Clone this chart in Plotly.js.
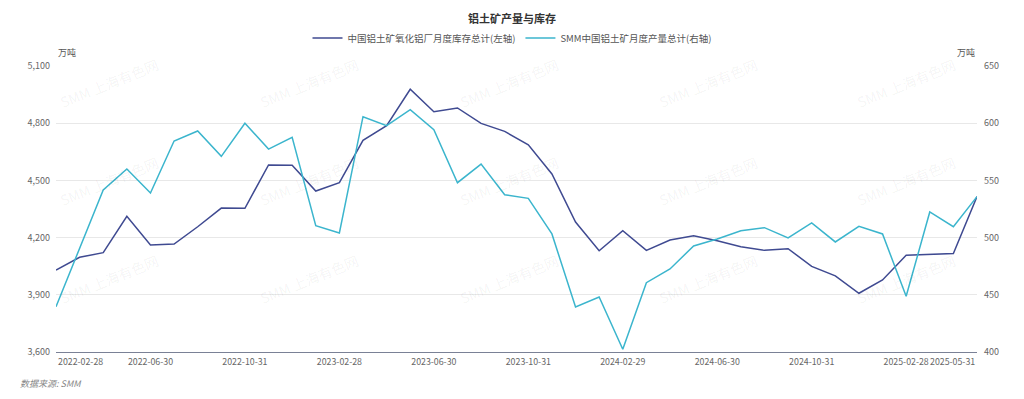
<!DOCTYPE html>
<html>
<head>
<meta charset="utf-8">
<script src="https://cdn.plot.ly/plotly-3.0.1.min.js"></script>
<style>
html,body{margin:0;padding:0;background:#fff;}
#chart{width:1024px;height:399px;}
</style>
</head>
<body>
<div id="chart"></div>
<script>
const dates = [
 "2022-02-28","2022-03-31","2022-04-30","2022-05-31","2022-06-30","2022-07-31","2022-08-31","2022-09-30",
 "2022-10-31","2022-11-30","2022-12-31","2023-01-31","2023-02-28","2023-03-31","2023-04-30","2023-05-31",
 "2023-06-30","2023-07-31","2023-08-31","2023-09-30","2023-10-31","2023-11-30","2023-12-31","2024-01-31",
 "2024-02-29","2024-03-31","2024-04-30","2024-05-31","2024-06-30","2024-07-31","2024-08-31","2024-09-30",
 "2024-10-31","2024-11-30","2024-12-31","2025-01-31","2025-02-28","2025-03-31","2025-04-30","2025-05-31"
];
const inventory = [4030,4097,4121,4312,4161,4166,4257,4355,4354,4581,4579,4444,4488,4710,4787,4978,
 4860,4880,4799,4757,4687,4534,4282,4131,4236,4133,4187,4210,4184,4152,4133,4142,4049,3999,3908,3978,
 4107,4110,4116,4415];
const production = [439.6,491,541.6,560,539,584.4,593.2,571,599.9,577.4,587.7,510.4,504,605.7,597.8,611.8,
 594.3,548,564.3,537.5,534.3,503.2,439.3,448.1,402.4,460.6,472.6,492.7,498.8,506,508.7,499.7,512.8,496.2,
 509.9,503.2,448.7,522.4,509.5,535.8];
const tickDates = ["2022-06-30","2022-10-31","2023-02-28","2023-06-30","2023-10-31","2024-02-29","2024-06-30","2024-10-31","2025-02-28"];
const edgeDates = ["2022-02-28","2025-05-31"];
const seriesNames = ["中国铝土矿氧化铝厂月度库存总计(左轴)","SMM中国铝土矿月度产量总计(右轴)"];
const titleText = "铝土矿产量与库存";
const unitText = "万吨";
const sourceText = "数据来源: SMM";
const watermarkText = "SMM 上海有色网";

const FONT = "'Noto Sans CJK SC', 'Noto Sans', sans-serif";
const L = 56, R = 47, T = 66, B = 47, W = 1024, H = 399;
const pw = W - L - R, ph = H - T - B;

const traces = [
 {x: dates, y: inventory, name: seriesNames[0], type: 'scatter', mode: 'lines',
  line: {color: '#3f4a91', width: 1.5}, yaxis: 'y', hoverinfo: 'x+y'},
 {x: dates, y: production, name: seriesNames[1], type: 'scatter', mode: 'lines',
  line: {color: '#3bb5cd', width: 1.5}, yaxis: 'y2', hoverinfo: 'x+y'}
];

const annotations = [
 {xref: 'paper', yref: 'paper', x: 0, y: 1, yshift: 5, xanchor: 'left', yanchor: 'bottom',
  text: unitText, showarrow: false, font: {family: FONT, size: 9, color: '#555'}},
 {xref: 'paper', yref: 'paper', x: 1, y: 1, yshift: 5, xanchor: 'right', yanchor: 'bottom',
  text: unitText, showarrow: false, font: {family: FONT, size: 9, color: '#555'}},
 {xref: 'x', yref: 'paper', x: edgeDates[0], y: 0, yshift: -1, xanchor: 'left', yanchor: 'top',
  text: edgeDates[0], showarrow: false, font: {family: FONT, size: 8.8, color: '#666'}},
 {xref: 'x', yref: 'paper', x: edgeDates[1], y: 0, yshift: -1, xanchor: 'right', yanchor: 'top',
  text: edgeDates[1], showarrow: false, font: {family: FONT, size: 8.8, color: '#666'}},
 {xref: 'paper', yref: 'paper', x: (18 - L) / pw, y: (H - B - 383) / ph, xanchor: 'left', yanchor: 'middle',
  text: '<i>' + sourceText + '</i>', showarrow: false, font: {family: FONT, size: 9, color: '#888'}}
];

// watermark grid
const wmX = [109, 309, 509, 708, 906];
const wmY = [83, 181, 279];
wmY.forEach(py => wmX.forEach(px => {
  annotations.push({xref: 'paper', yref: 'paper', x: (px - L) / pw, y: (H - B - py) / ph,
    xanchor: 'center', yanchor: 'middle', text: watermarkText, textangle: -22, showarrow: false,
    font: {family: FONT, size: 14, color: 'rgba(0,0,0,0.055)'}});
}));

const layout = {
 width: W, height: H,
 margin: {l: L, r: R, t: T, b: B, pad: 0},
 paper_bgcolor: '#fff', plot_bgcolor: '#fff',
 font: {family: FONT, size: 9, color: '#666'},
 title: {text: titleText, x: 0.5, xanchor: 'center', xref: 'container', yref: 'container',
   y: 1 - 19 / H, yanchor: 'middle', font: {family: FONT, size: 11, color: '#333', weight: 700}},
 showlegend: true,
 legend: {orientation: 'h', x: 0.5, xanchor: 'center', xref: 'container', yref: 'container',
   y: 1 - 38 / H, yanchor: 'middle', font: {family: FONT, size: 9.5, color: '#555'},
   itemwidth: 30, tracegroupgap: 0, bgcolor: 'rgba(0,0,0,0)'},
 xaxis: {type: 'category', range: [0, dates.length - 1], tickmode: 'array',
   tickvals: tickDates, ticktext: tickDates, ticks: '', showgrid: false, zeroline: false,
   showline: true, linecolor: '#7a8196', linewidth: 1,
   tickfont: {family: FONT, size: 8.8, color: '#666'}, ticklabelstandoff: 1},
 yaxis: {range: [3600, 5100], tickvals: [3600, 3900, 4200, 4500, 4800, 5100], tickformat: ',',
   showgrid: true, gridcolor: '#e8e8e8', gridwidth: 1, zeroline: false, showline: false, ticks: '',
   tickfont: {family: FONT, size: 9, color: '#666'}, ticklabelstandoff: 5},
 yaxis2: {range: [400, 650], tickvals: [400, 450, 500, 550, 600, 650], overlaying: 'y', side: 'right',
   showgrid: false, zeroline: false, showline: false, ticks: '',
   tickfont: {family: FONT, size: 9, color: '#666'}, ticklabelstandoff: 6},
 annotations: annotations,
 hovermode: 'x unified'
};

Plotly.newPlot('chart', traces, layout, {displayModeBar: false, staticPlot: false});
</script>
</body>
</html>
